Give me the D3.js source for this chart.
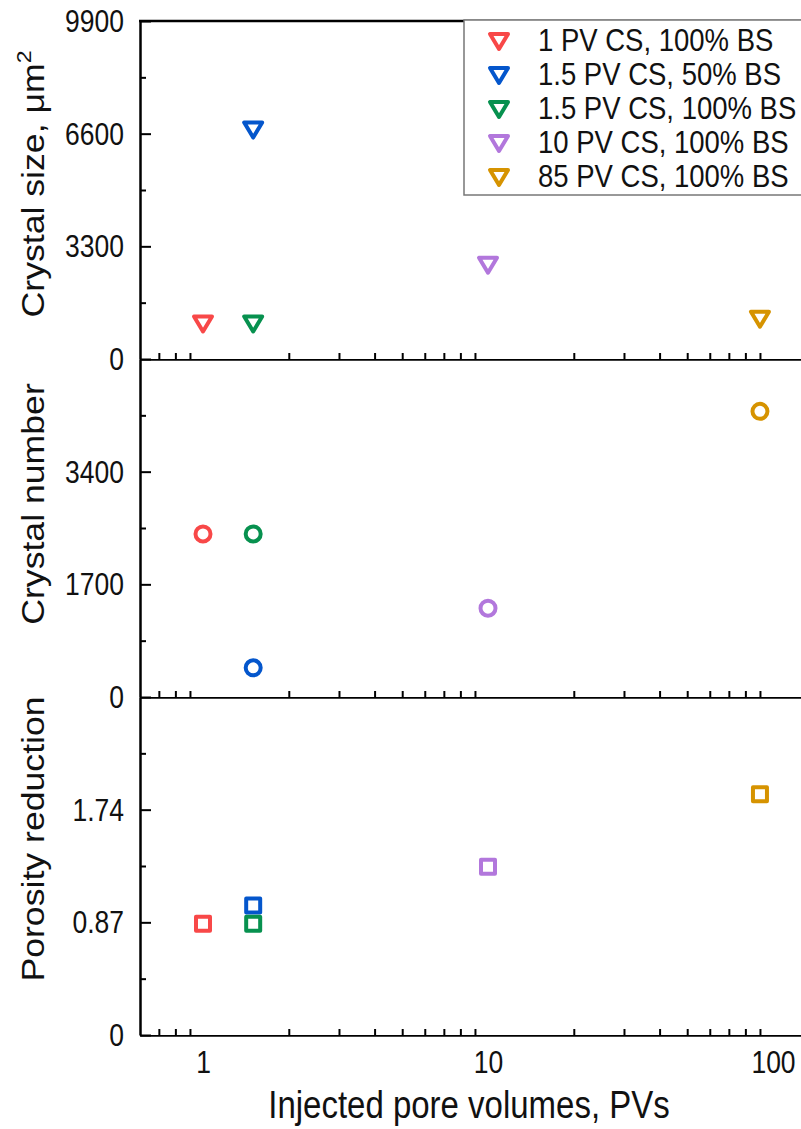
<!DOCTYPE html>
<html>
<head>
<meta charset="utf-8">
<script src="https://cdn.jsdelivr.net/npm/d3@7"></script>
<style>
  body { margin: 0; background: #fff; }
  svg { font-family: "Liberation Sans", Arial, sans-serif; }
</style>
</head>
<body>
<script>
// series (one per experiment)
const seriesNames = ["1 PV CS, 100% BS", "1.5 PV CS, 50% BS", "1.5 PV CS, 100% BS", "10 PV CS, 100% BS", "85 PV CS, 100% BS"];
const seriesColors = ["#f84848", "#0456cc", "#07914f", "#b277dc", "#d69300"];
const injectedPV = [1, 1.5, 1.5, 10, 90];

// values
const crystalSize = [1040, 6720, 1040, 2760, 1180];
const crystalNumber = [2460, 440, 2460, 1340, 4310];
const porosityReduction = [0.86, 1.0, 0.86, 1.30, 1.86];

// axis ticks
const xTicks = [1, 10, 100];
const xMinor = [0.7, 0.8, 0.9, 2, 3, 4, 5, 6, 7, 8, 9, 20, 30, 40, 50, 60, 70, 80, 90];
const sizeTicks = [0, 3300, 6600, 9900];
const sizeMinor = [1650, 4950, 8250];
const numberTicks = [0, 1700, 3400];
const numberMinor = [850, 2550, 4250];
const porosityTicks = [0, 0.87, 1.74];
const porosityMinor = [0.435, 1.305, 2.175];

const W = 801, H = 1129;
const left = 140, right = 801;
const panelTop = [21, 359, 697];
const panelH = 338;
const stretch = 1.15; // text in the original is a bit taller than wide

let svg = d3.select("body").append("svg")
  .attr("width", W)
  .attr("height", H);

let x = d3.scaleLog()
  .domain([0.6, 125])
  .range([203 + 285 * Math.log10(0.6), 203 + 285 * Math.log10(125)]);

let panels = [
  { values: crystalSize, domain: [0, 9900], ticks: sizeTicks, minor: sizeMinor, label: "Crystal size, μm", sup: "2", shape: "tri", labelY: 184 },
  { values: crystalNumber, domain: [0, 5100], ticks: numberTicks, minor: numberMinor, label: "Crystal number", shape: "circle", labelY: 504 },
  { values: porosityReduction, domain: [0, 2.61], ticks: porosityTicks, minor: porosityMinor, label: "Porosity reduction", shape: "square", labelY: 839 }
];

svg.append("defs").append("clipPath").attr("id", "clip")
  .append("rect").attr("x", left).attr("y", 0).attr("width", right - left).attr("height", H);

function markerPath(shape) {
  if (shape == "tri") {
    return "M-9,-7L9,-7L0,8Z";
  }
  if (shape == "square") {
    return "M-7,-7L7,-7L7,7L-7,7Z";
  }
  return null;
}

panels.forEach((p, i) => {
  let top = panelTop[i], bottom = top + panelH;
  let y = d3.scaleLinear().domain(p.domain).range([bottom, top]);
  let g = svg.append("g");

  // left axis major ticks (inward)
  g.append("g")
    .attr("transform", `translate(${left},0)`)
    .call(d3.axisLeft(y).tickValues(p.ticks).tickSizeInner(-11).tickSizeOuter(0).tickFormat(d => d))
    .call(a => a.select(".domain").attr("stroke-width", 2.5))
    .call(a => a.selectAll(".tick line").attr("stroke-width", 2))
    .call(a => a.selectAll("text")
      .attr("font-size", 26.5).attr("fill", "#111")
      .attr("x", 0).attr("dy", 0)
      .attr("transform", `translate(-16,10.5) scale(1,${stretch})`));

  // left axis minor ticks
  g.append("g")
    .attr("transform", `translate(${left},0)`)
    .call(d3.axisLeft(y).tickValues(p.minor).tickSizeInner(-6).tickSizeOuter(0).tickFormat(""))
    .call(a => a.select(".domain").remove())
    .call(a => a.selectAll(".tick line").attr("stroke-width", 2));

  // bottom axis (ticks pointing up into the panel)
  g.append("g").attr("transform", `translate(0,${bottom})`).attr("clip-path", "url(#clip)")
    .call(d3.axisBottom(x).tickValues(xTicks).tickSizeInner(-12).tickSizeOuter(0).tickFormat(i == 2 ? d3.format("d") : ""))
    .call(a => a.select(".domain").attr("stroke-width", 2.5))
    .call(a => a.selectAll(".tick line").attr("stroke-width", 2))
    .call(a => a.selectAll("text")
      .attr("font-size", 26.5).attr("fill", "#111")
      .attr("y", 0).attr("dy", 0)
      .attr("transform", `translate(0,38) scale(1,${stretch})`));
  g.append("g").attr("transform", `translate(0,${bottom})`)
    .call(d3.axisBottom(x).tickValues(xMinor).tickSizeInner(-6).tickSizeOuter(0).tickFormat(""))
    .call(a => a.select(".domain").remove())
    .call(a => a.selectAll(".tick line").attr("stroke-width", 2));

  // y title
  let t = svg.append("text")
    .attr("transform", `translate(44,${p.labelY}) scale(1,${stretch}) rotate(-90)`)
    .attr("text-anchor", "middle")
    .attr("font-size", 31)
    .attr("fill", "#111")
    .text(p.label);
  if (p.sup) {
    t.append("tspan").attr("font-size", 20).attr("dy", -13).text(p.sup);
  }

  // points
  p.values.forEach((v, k) => {
    let cx = x(injectedPV[k]), cy = y(v);
    if (p.shape == "circle") {
      g.append("circle")
        .attr("cx", cx).attr("cy", cy).attr("r", 7.5)
        .attr("fill", "#fff").attr("stroke", seriesColors[k]).attr("stroke-width", 4);
    } else {
      g.append("path")
        .attr("d", markerPath(p.shape))
        .attr("transform", `translate(${cx},${cy})`)
        .attr("fill", "#fff").attr("stroke", seriesColors[k]).attr("stroke-width", 4)
        .attr("stroke-linejoin", "round");
    }
  });
});

// top frame line
svg.append("line")
  .attr("x1", left - 1).attr("x2", right).attr("y1", panelTop[0]).attr("y2", panelTop[0])
  .attr("stroke", "#000").attr("stroke-width", 2.5);

// x title
svg.append("text")
  .attr("transform", `translate(469,1118) scale(1,${stretch})`)
  .attr("text-anchor", "middle")
  .attr("font-size", 33)
  .attr("fill", "#111")
  .text("Injected pore volumes, PVs");

// legend
let lg = svg.append("g");
lg.append("rect")
  .attr("x", 464).attr("y", 20).attr("width", 345).attr("height", 175)
  .attr("fill", "#fff").attr("stroke", "#777").attr("stroke-width", 1.5);
seriesNames.forEach((name, k) => {
  let ry = 41 + k * 34;
  lg.append("path")
    .attr("d", markerPath("tri"))
    .attr("transform", `translate(499,${ry})`)
    .attr("fill", "#fff").attr("stroke", seriesColors[k]).attr("stroke-width", 4)
    .attr("stroke-linejoin", "round");
  lg.append("text")
    .attr("transform", `translate(538,${ry + 10}) scale(1,${stretch})`)
    .attr("font-size", 27.5)
    .attr("fill", "#111")
    .text(name);
});
</script>
</body>
</html>
